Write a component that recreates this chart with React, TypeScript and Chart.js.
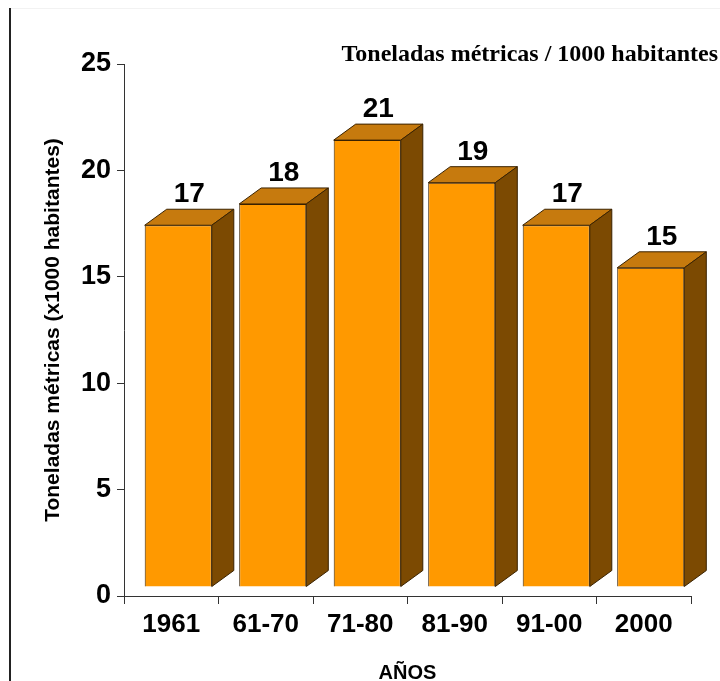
import React, { useEffect, useRef } from "react";
import { Chart, registerables } from "chart.js";

Chart.register(...registerables);

const categories = ["1961", "61-70", "71-80", "81-90", "91-00", "2000"];
const values = [17, 18, 21, 19, 17, 15];
const yTicks = [0, 5, 10, 15, 20, 25];
const chartTitle = "Toneladas métricas / 1000 habitantes";
const yTitle = "Toneladas métricas (x1000 habitantes)";
const xTitle = "AÑOS";

const FRONT = "#FF9900";
const TOP = "#C67A0E";
const SIDE = "#7C4A02";
const EDGE = "#3A2200";
const SHIFT_X = 7;
const SHIFT_Y = -9;
const DX = 22;
const DY = -16;

const bars3d = {
  id: "bars3d",
  beforeDatasetsDraw(chart: any) {
    chart.ctx.save();
    chart.ctx.translate(SHIFT_X, SHIFT_Y);
  },
  afterDatasetsDraw(chart: any) {
    const ctx = chart.ctx;
    ctx.restore();
    const meta = chart.getDatasetMeta(0);
    ctx.save();
    ctx.lineWidth = 1;
    ctx.strokeStyle = EDGE;
    meta.data.forEach((bar: any, i: number) => {
      const half = bar.width / 2;
      const l = bar.x - half + SHIFT_X;
      const r = bar.x + half + SHIFT_X;
      const t = bar.y + SHIFT_Y;
      const b = bar.base + SHIFT_Y;
      ctx.beginPath();
      ctx.moveTo(l, t);
      ctx.lineTo(l + DX, t + DY);
      ctx.lineTo(r + DX, t + DY);
      ctx.lineTo(r, t);
      ctx.closePath();
      ctx.fillStyle = TOP;
      ctx.fill();
      ctx.stroke();
      ctx.beginPath();
      ctx.moveTo(r, t);
      ctx.lineTo(r + DX, t + DY);
      ctx.lineTo(r + DX, b + DY);
      ctx.lineTo(r, b);
      ctx.closePath();
      ctx.fillStyle = SIDE;
      ctx.fill();
      ctx.stroke();
      ctx.fillStyle = "#000";
      ctx.font = "bold 28px 'Liberation Sans', Arial, sans-serif";
      ctx.textAlign = "center";
      ctx.textBaseline = "alphabetic";
      ctx.fillText(String(values[i]), (l + r + DX) / 2, t + DY - 7);
    });
    ctx.restore();
  },
  afterDraw(chart: any) {
    const ctx = chart.ctx;
    ctx.save();
    ctx.fillStyle = "#222";
    ctx.fillRect(9, 8, 2, chart.height - 8);
    ctx.fillStyle = "#f2f2f2";
    ctx.fillRect(11, 8, chart.width - 11, 1);
    ctx.fillStyle = "#000";
    ctx.font = "bold 24px 'Liberation Serif', 'Times New Roman', serif";
    ctx.textAlign = "right";
    ctx.textBaseline = "middle";
    ctx.fillText(chartTitle, 718, 55);
    ctx.restore();
  },
};

export default function App() {
  const ref = useRef<HTMLCanvasElement | null>(null);
  useEffect(() => {
    document.body.style.margin = "0";
    const canvas = ref.current!;
    const chart = new Chart(canvas, {
      type: "bar",
      data: {
        labels: categories,
        datasets: [
          {
            data: values,
            backgroundColor: FRONT,
            borderColor: EDGE,
            borderWidth: 1,
            categoryPercentage: 1,
            barPercentage: 0.71,
          },
        ],
      },
      options: {
        responsive: false,
        animation: false,
        layout: { padding: { top: 64, left: 30, right: 29, bottom: 0 } },
        plugins: {
          legend: { display: false },
          tooltip: { enabled: false },
          title: { display: false },
        },
        scales: {
          x: {
            grid: {
              display: true,
              drawOnChartArea: false,
              drawTicks: true,
              tickLength: 8,
              offset: true,
              color: "#333",
            },
            border: { display: true, color: "#333", width: 1 },
            ticks: {
              color: "#000",
              padding: 5,
              font: { family: "'Liberation Sans', Arial, sans-serif", size: 26, weight: "bold" },
            },
            title: {
              display: true,
              text: xTitle,
              color: "#000",
              font: { family: "'Liberation Sans', Arial, sans-serif", size: 20, weight: "bold", lineHeight: 0.8 },
              padding: { top: 0, bottom: 0 },
            },
            afterFit(scale: any) {
              scale.height = 85;
            },
          },
          y: {
            min: 0,
            max: 25,
            afterBuildTicks(scale: any) {
              scale.ticks = yTicks.map((v) => ({ value: v }));
            },
            grid: {
              display: true,
              drawOnChartArea: false,
              drawTicks: true,
              tickLength: 7,
              color: "#333",
            },
            border: { display: true, color: "#333", width: 1 },
            ticks: {
              color: "#000",
              padding: 6,
              font: { family: "'Liberation Sans', Arial, sans-serif", size: 27, weight: "bold" },
            },
            title: {
              display: true,
              text: yTitle,
              color: "#000",
              font: { family: "'Liberation Sans', Arial, sans-serif", size: 21, weight: "bold", lineHeight: 1.2 },
              padding: { top: 11, bottom: 0 },
            },
            afterFit(scale: any) {
              scale.width = 94;
            },
          },
        },
      },
      plugins: [bars3d],
    } as any);
    return () => chart.destroy();
  }, []);
  return <canvas ref={ref} width={720} height={681} style={{ display: "block" }} />;
}
